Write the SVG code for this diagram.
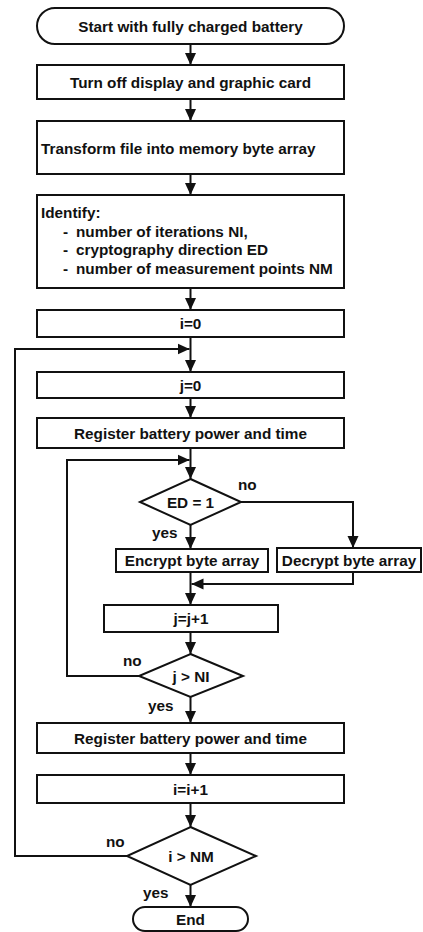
<svg xmlns="http://www.w3.org/2000/svg" width="423" height="932" viewBox="0 0 423 932">
<style>
.n{fill:#fff;stroke:#111;stroke-width:2}
.t{font-family:"Liberation Sans",Arial,sans-serif;font-weight:bold;font-size:15.3px;fill:#111}
.c{text-anchor:middle}
.e{fill:none;stroke:#111;stroke-width:2}
</style>
<defs>
<marker id="ah" markerWidth="12" markerHeight="12" viewBox="0 0 12 12" refX="12" refY="6" orient="auto" markerUnits="userSpaceOnUse"><path d="M0,0.5 L12,6 L0,11.5 z" fill="#111"/></marker>
</defs>
<rect width="423" height="932" fill="#fff"/>
<g id="connectors">
<path class="e" d="M190.5,44 V65" marker-end="url(#ah)"/>
<path class="e" d="M190.5,99 V121" marker-end="url(#ah)"/>
<path class="e" d="M190.5,174 V195" marker-end="url(#ah)"/>
<path class="e" d="M190.5,288 V310" marker-end="url(#ah)"/>
<path class="e" d="M190.5,337 V372" marker-end="url(#ah)"/>
<path class="e" d="M190.5,398 V418" marker-end="url(#ah)"/>
<path class="e" d="M190.5,448 V479" marker-end="url(#ah)"/>
<path class="e" d="M241,502 H353 V548" marker-end="url(#ah)"/>
<path class="e" d="M190.5,525 V549" marker-end="url(#ah)"/>
<path class="e" d="M353,572 V584 H191.5" marker-end="url(#ah)"/>
<path class="e" d="M190.5,572 V605" marker-end="url(#ah)"/>
<path class="e" d="M190.5,632 V654" marker-end="url(#ah)"/>
<path class="e" d="M139,676 H67 V460 H189.5" marker-end="url(#ah)"/>
<path class="e" d="M190.5,697 V723" marker-end="url(#ah)"/>
<path class="e" d="M190.5,753 V775" marker-end="url(#ah)"/>
<path class="e" d="M190.5,803 V827" marker-end="url(#ah)"/>
<path class="e" d="M127,856 H15 V349 H189.5" marker-end="url(#ah)"/>
<path class="e" d="M190.5,885 V907" marker-end="url(#ah)"/>
<text class="t" x="238" y="490">no</text>
<text class="t" x="152" y="538">yes</text>
<text class="t" x="123" y="666">no</text>
<text class="t" x="148" y="711">yes</text>
<text class="t" x="106" y="847">no</text>
<text class="t" x="143" y="898">yes</text>
</g>
<g id="start"><rect class="n" x="37" y="8" width="307" height="36" rx="18"/><text class="t c" x="190.5" y="31.5">Start with fully charged battery</text></g>
<g id="turnoff"><rect class="n" x="37" y="65" width="307" height="34"/><text class="t c" x="190.5" y="87.5">Turn off display and graphic card</text></g>
<g id="transform"><rect class="n" x="37" y="121" width="307" height="53"/><text class="t" x="41" y="154">Transform file into memory byte array</text></g>
<g id="identify"><rect class="n" x="37" y="195" width="307" height="93"/>
<text class="t" x="41" y="218">Identify:</text>
<text class="t" x="63" y="236.5">-</text><text class="t" x="76" y="236.5">number of iterations NI,</text>
<text class="t" x="63" y="255">-</text><text class="t" x="76" y="255">cryptography direction ED</text>
<text class="t" x="63" y="273.5">-</text><text class="t" x="76" y="273.5">number of measurement points NM</text>
</g>
<g id="i0"><rect class="n" x="37" y="310" width="307" height="27"/><text class="t c" x="190.5" y="329">i=0</text></g>
<g id="j0"><rect class="n" x="37" y="372" width="307" height="26"/><text class="t c" x="190.5" y="390.5">j=0</text></g>
<g id="register1"><rect class="n" x="37" y="418" width="307" height="30"/><text class="t c" x="190.5" y="438.5">Register battery power and time</text></g>
<g id="ed"><path class="n" d="M190.5,479 L241,502 L190.5,525 L140,502 Z"/><text class="t c" x="190.5" y="507.5">ED = 1</text></g>
<g id="encrypt"><rect class="n" x="116" y="549" width="152" height="23"/><text class="t c" x="192" y="566">Encrypt byte array</text></g>
<g id="decrypt"><rect class="n" x="277" y="548" width="144" height="24"/><text class="t c" x="349" y="566">Decrypt byte array</text></g>
<g id="jinc"><rect class="n" x="104" y="605" width="174" height="27"/><text class="t c" x="191" y="623.5">j=j+1</text></g>
<g id="jni"><path class="n" d="M190.5,654 L243,676 L190.5,697 L139,676 Z"/><text class="t c" x="191" y="681.5">j &gt; NI</text></g>
<g id="register2"><rect class="n" x="37" y="723" width="307" height="30"/><text class="t c" x="190.5" y="743.5">Register battery power and time</text></g>
<g id="iinc"><rect class="n" x="37" y="775" width="307" height="28"/><text class="t c" x="190.5" y="794.5">i=i+1</text></g>
<g id="inm"><path class="n" d="M190.5,827 L256,856 L190.5,885 L127,856 Z"/><text class="t c" x="191" y="861.5">i &gt; NM</text></g>
<g id="end"><rect class="n" x="133" y="907" width="115" height="24" rx="12"/><text class="t c" x="190.5" y="925">End</text></g>
</svg>
